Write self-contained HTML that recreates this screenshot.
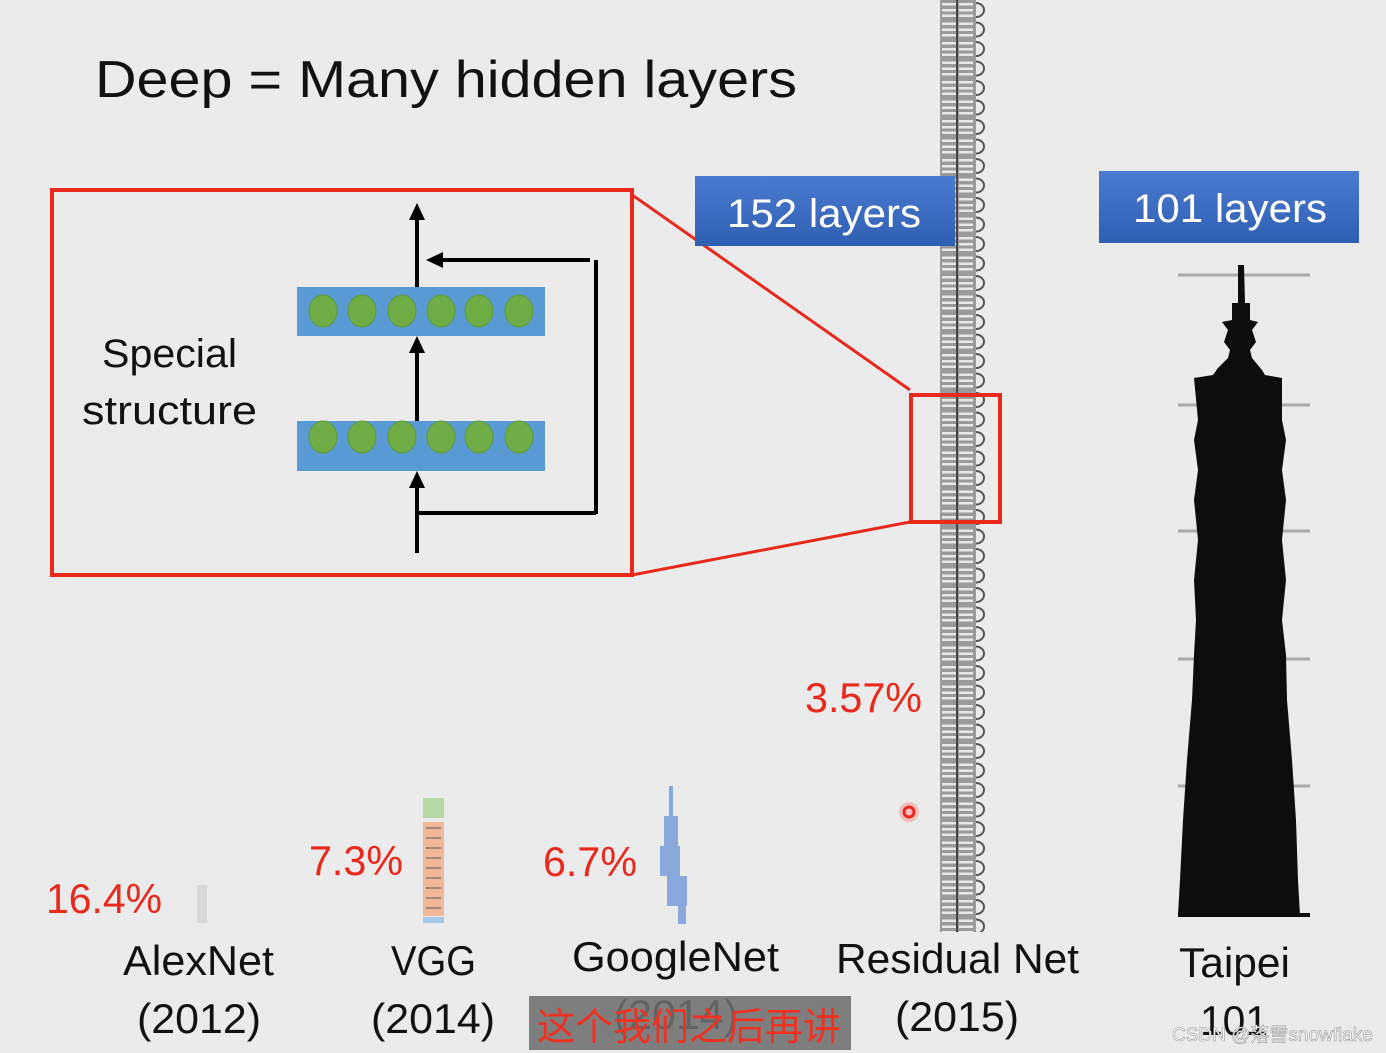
<!DOCTYPE html>
<html><head><meta charset="utf-8"><style>
html,body{margin:0;padding:0;background:#ebebeb;}
svg{display:block;}
text{font-family:"Liberation Sans","Noto Sans CJK SC",sans-serif;}
</style></head><body>
<svg width="1386" height="1053" viewBox="0 0 1386 1053" xmlns="http://www.w3.org/2000/svg">
<defs>
<pattern id="res" x="940" y="0" width="50" height="19.5" patternUnits="userSpaceOnUse">
  <rect x="0" y="0" width="36" height="19.5" fill="#9a9a9a"/>
  <rect x="2" y="3" width="14" height="2.5" fill="#e8e8e8"/>
  <rect x="2" y="9" width="14" height="2.5" fill="#e8e8e8"/>
  <rect x="2" y="14.5" width="14" height="2.5" fill="#e8e8e8"/>
  <rect x="19" y="3" width="14" height="2.5" fill="#e8e8e8"/>
  <rect x="19" y="9" width="14" height="2.5" fill="#e8e8e8"/>
  <rect x="19" y="14.5" width="14" height="2.5" fill="#e8e8e8"/>
  <rect x="16" y="0" width="2" height="19.5" fill="#444"/>
  <path d="M36 3 A8 7 0 0 1 36 17" fill="none" stroke="#555" stroke-width="2"/>
</pattern>
<linearGradient id="bb" x1="0" y1="0" x2="0" y2="1">
  <stop offset="0" stop-color="#4a7bd0"/><stop offset="1" stop-color="#2f5fb3"/>
</linearGradient>
</defs>
<rect width="1386" height="1053" fill="#ebebeb"/>

<text x="95" y="97" font-size="52" fill="#111" textLength="702" lengthAdjust="spacingAndGlyphs">Deep = Many hidden layers</text>

<!-- residual column -->
<rect x="940" y="0" width="48" height="932" fill="url(#res)"/>

<!-- zoom lines -->
<line x1="628" y1="192" x2="910" y2="390" stroke="#e8291c" stroke-width="3"/>
<line x1="632" y1="575" x2="910" y2="522" stroke="#e8291c" stroke-width="3"/>
<rect x="911" y="395" width="89" height="127" fill="none" stroke="#e8291c" stroke-width="4"/>

<!-- big red box -->
<rect x="52" y="190" width="580" height="385" fill="#ebebeb" stroke="#e8291c" stroke-width="4"/>
<text x="102" y="367" font-size="40" fill="#111" textLength="135" lengthAdjust="spacingAndGlyphs">Special</text>
<text x="82" y="424" font-size="40" fill="#111" textLength="175" lengthAdjust="spacingAndGlyphs">structure</text>

<rect x="297" y="287" width="248" height="49" fill="#5b9bd5"/>
<rect x="297" y="421" width="248" height="50" fill="#5b9bd5"/>
<g fill="#70ad47" stroke="#5a9a3a" stroke-width="1">
<ellipse cx="323" cy="311" rx="14" ry="16"/><ellipse cx="362" cy="311" rx="14" ry="16"/><ellipse cx="402" cy="311" rx="14" ry="16"/><ellipse cx="441" cy="311" rx="14" ry="16"/><ellipse cx="479" cy="311" rx="14" ry="16"/><ellipse cx="519" cy="311" rx="14" ry="16"/>
<ellipse cx="323" cy="437" rx="14" ry="16"/><ellipse cx="362" cy="437" rx="14" ry="16"/><ellipse cx="402" cy="437" rx="14" ry="16"/><ellipse cx="441" cy="437" rx="14" ry="16"/><ellipse cx="479" cy="437" rx="14" ry="16"/><ellipse cx="519" cy="437" rx="14" ry="16"/>
</g>
<g stroke="#000" stroke-width="4" fill="none">
<line x1="417" y1="553" x2="417" y2="485"/>
<line x1="417" y1="421" x2="417" y2="350"/>
<line x1="417" y1="287" x2="417" y2="218"/>
<polyline points="417,513 596,513"/>
<line x1="596" y1="514" x2="596" y2="260"/>
<line x1="590" y1="260" x2="440" y2="260"/>
</g>
<g fill="#000">
<polygon points="417,203 409,220 425,220"/>
<polygon points="417,336 409,353 425,353"/>
<polygon points="417,471 409,488 425,488"/>
<polygon points="426,260 443,252 443,268"/>
</g>

<!-- blue labels -->
<rect x="695" y="176" width="260" height="70" fill="url(#bb)"/>
<text x="727" y="227" font-size="40" fill="#fff" textLength="194" lengthAdjust="spacingAndGlyphs">152 layers</text>
<rect x="1099" y="171" width="260" height="72" fill="url(#bb)"/>
<text x="1133" y="222" font-size="40" fill="#fff" textLength="194" lengthAdjust="spacingAndGlyphs">101 layers</text>

<!-- tower -->
<g stroke="#aaa" stroke-width="3">
<line x1="1178" y1="275" x2="1310" y2="275"/>
<line x1="1178" y1="405" x2="1310" y2="405"/>
<line x1="1178" y1="531" x2="1310" y2="531"/>
<line x1="1178" y1="659" x2="1310" y2="659"/>
<line x1="1178" y1="786" x2="1310" y2="786"/>
</g>
<polygon fill="#0d0d0d" points="1238,265 1244,265 1245,303 1250,303 1250,320 1258,322 1252,330 1256,342 1250,350 1252,358 1262,370 1265,375 1282,378 1282,420 1286,440 1282,470 1286,500 1282,540 1286,580 1282,620 1286,655 1287,700 1292,760 1296,820 1298,880 1300,915 1178,915 1180,880 1183,820 1187,760 1192,700 1194,655 1196,620 1194,580 1198,540 1194,500 1198,470 1194,440 1198,420 1194,378 1213,375 1218,368 1228,358 1230,350 1224,342 1228,330 1222,322 1232,320 1232,303 1238,303"/>
<line x1="1178" y1="915" x2="1310" y2="915" stroke="#0d0d0d" stroke-width="4"/>

<!-- VGG icon -->
<rect x="423" y="798" width="21" height="20" fill="#b8d8a8"/>
<rect x="423" y="822" width="21" height="94" fill="#f0b898"/>
<g stroke="#555" stroke-width="1">
<line x1="426" y1="828" x2="441" y2="828"/><line x1="426" y1="838" x2="441" y2="838"/><line x1="426" y1="848" x2="441" y2="848"/><line x1="426" y1="858" x2="441" y2="858"/><line x1="426" y1="868" x2="441" y2="868"/><line x1="426" y1="878" x2="441" y2="878"/><line x1="426" y1="888" x2="441" y2="888"/><line x1="426" y1="898" x2="441" y2="898"/><line x1="426" y1="908" x2="441" y2="908"/>
</g>
<rect x="423" y="917" width="21" height="6" fill="#a8c8e8"/>
<!-- AlexNet icon -->
<rect x="197" y="885" width="10" height="38" fill="#d8d8d8"/>
<!-- GoogleNet icon -->
<g fill="#8aa8dc">
<rect x="669" y="786" width="4" height="30"/>
<rect x="664" y="816" width="14" height="30"/>
<rect x="660" y="846" width="20" height="30"/>
<rect x="667" y="876" width="20" height="30"/>
<rect x="678" y="906" width="8" height="18"/>
</g>

<!-- percentages -->
<g fill="#e8291c" font-size="42">
<text x="46" y="913" textLength="116" lengthAdjust="spacingAndGlyphs">16.4%</text>
<text x="309" y="875" textLength="94" lengthAdjust="spacingAndGlyphs">7.3%</text>
<text x="543" y="876" textLength="94" lengthAdjust="spacingAndGlyphs">6.7%</text>
<text x="805" y="712" textLength="117" lengthAdjust="spacingAndGlyphs">3.57%</text>
</g>
<circle cx="909" cy="812" r="10" fill="#f6a0a0" opacity="0.6"/>
<circle cx="909" cy="812" r="5" fill="none" stroke="#e8291c" stroke-width="3"/>

<!-- names -->
<g fill="#111" font-size="42">
<text x="123" y="975" textLength="151" lengthAdjust="spacingAndGlyphs">AlexNet</text>
<text x="137" y="1033" textLength="124" lengthAdjust="spacingAndGlyphs">(2012)</text>
<text x="391" y="975" textLength="85" lengthAdjust="spacingAndGlyphs">VGG</text>
<text x="371" y="1033" textLength="124" lengthAdjust="spacingAndGlyphs">(2014)</text>
<text x="572" y="971" textLength="207" lengthAdjust="spacingAndGlyphs">GoogleNet</text>
<text x="614" y="1029" textLength="124" lengthAdjust="spacingAndGlyphs">(2014)</text>
<text x="836" y="973" textLength="243" lengthAdjust="spacingAndGlyphs">Residual Net</text>
<text x="895" y="1031" textLength="124" lengthAdjust="spacingAndGlyphs">(2015)</text>
<text x="1179" y="977" textLength="111" lengthAdjust="spacingAndGlyphs">Taipei</text>
<text x="1200" y="1035" textLength="68" lengthAdjust="spacingAndGlyphs">101</text>
</g>

<rect x="529" y="996" width="322" height="54" fill="#6e6e6e" opacity="0.88"/>
<text x="537" y="1040" font-size="38" fill="#f03020" font-family="'Noto Sans CJK SC',sans-serif" textLength="304" lengthAdjust="spacingAndGlyphs">这个我们之后再讲</text>
<text x="1172" y="1041" font-size="19" fill="#ffffff" stroke="#999" stroke-width="0.6">CSDN @落雪snowflake</text>
</svg>
</body></html>
